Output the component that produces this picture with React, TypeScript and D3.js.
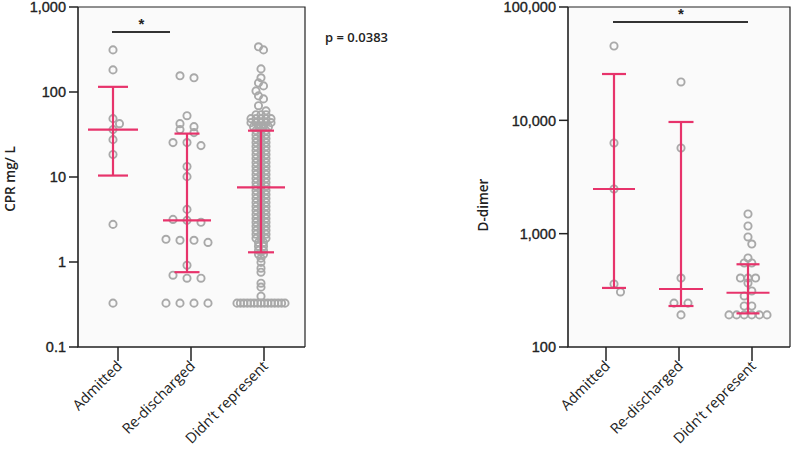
import React from 'react';
import * as d3 from 'd3';

const categories = ['Admitted', 'Re-discharged', 'Didn’t represent'];

// CPR (mg/L) individual values
const crpAdmitted = [313, 182, 48.6, 42.4, 36.1, 27.5, 18.4, 2.77, 0.328];
const crpRedischarged = [155, 147, 52.6, 42.4, 39.1, 36.1, 33.3, 25.4, 23.4, 25.4, 13.3, 10.1, 4.16, 3.17, 3.09, 2.93, 1.85, 1.8, 1.8, 1.7, 0.916, 0.699, 0.645, 0.645, 0.328, 0.328, 0.328, 0.328];
const crpDidntRepresent = [
  340, 313, 187, 147, 128, 118, 103, 90, 83, 69, 60,
  54.1, 54.1, 54.1, 48.6, 48.6, 48.6, 48.6, 48.6, 43.6, 43.6, 43.6, 43.6, 43.6, 39.1, 39.1, 39.1, 39.1, 35.1, 35.1, 35.1,
  31.5, 31.5, 31.5, 28.3, 28.3, 28.3, 25.4, 25.4, 25.4, 22.8, 22.8, 22.8, 20.5, 20.5, 20.5, 18.4, 18.4, 18.4,
  16.5, 16.5, 16.5, 14.8, 14.8, 14.8, 13.3, 13.3, 13.3, 11.9, 11.9, 11.9, 10.7, 10.7, 10.7, 9.6, 9.6, 9.6,
  8.62, 8.62, 8.62, 7.74, 7.74, 7.74, 6.94, 6.94, 6.94, 6.23, 6.23, 6.23, 5.6, 5.6, 5.6, 5.02, 5.02, 5.02,
  4.51, 4.51, 4.51, 4.05, 4.05, 4.05, 3.63, 3.63, 3.63, 3.26, 3.26, 3.26, 2.93, 2.93, 2.93, 2.63, 2.63, 2.63,
  2.36, 2.36, 2.36, 2.12, 2.12, 2.12, 1.9, 1.9, 1.9, 1.7, 1.7, 1.53, 1.53, 1.37, 1.37, 1.23, 1.23,
  1.11, 0.99, 0.845, 0.759, 0.563, 0.506, 0.396,
  0.328, 0.328, 0.328, 0.328, 0.328, 0.328, 0.328, 0.328, 0.328, 0.328, 0.328, 0.328, 0.328, 0.328, 0.328,
];
const crpLower = [10.4, 0.759, 1.3];
const crpMedian = [36.1, 3.09, 7.53];
const crpUpper = [115, 32.4, 35.1];
const crpTicks = [0.1, 1, 10, 100, 1000];

// D-dimer individual values
const ddAdmitted = [45300, 6310, 2478, 360, 306];
const ddRedischarged = [21800, 5700, 406, 244, 244, 192];
const ddDidntRepresent = [1491, 1169, 935, 810, 610, 551, 551, 406, 406, 406, 367, 312, 282, 230, 230, 192, 192, 192, 192, 192, 192];
const ddLower = [332, 230, 198];
const ddMedian = [2478, 325, 301];
const ddUpper = [25630, 9670, 537];
const ddTicks = [100, 1000, 10000, 100000];

const pValueText = 'p = 0.0383';

const PINK = '#e7336b';
const GREY = '#a9a9a9';
const DARK = '#222';
const TICKFONT = '"Liberation Sans", Arial, sans-serif';
const LABELFONT = '"Open Sans", "Noto Sans", sans-serif';

type Pt = { v: number; y: number; dx: number };

function swarm(values: number[], y: (v: number) => number, spacing: number, maxHalf: number): Pt[] {
  const pts: Pt[] = values.map((v) => ({ v, y: y(v), dx: 0 }));
  const sorted = [...pts].sort((a, b) => a.y - b.y);
  const placed: Pt[] = [];
  const D = 8;
  let i = 0;
  while (i < sorted.length) {
    const start = sorted[i].y;
    let j = i;
    while (j < sorted.length && sorted[j].y - start < 3.5) j++;
    const row = sorted.slice(i, j);
    const n = row.length;
    if (n === 1) {
      const p = row[0];
      const cands = [0, spacing / 2, -spacing / 2, spacing, -spacing];
      for (const c of cands) {
        if (placed.every((q) => Math.hypot(q.dx - c, q.y - p.y) >= D)) {
          p.dx = c;
          break;
        }
      }
    } else {
      const sp = Math.min(spacing, (2 * maxHalf) / (n - 1));
      row.forEach((p, k) => (p.dx = (k - (n - 1) / 2) * sp));
    }
    placed.push(...row);
    i = j;
  }
  return sorted;
}

type PanelProps = {
  x0: number; x1: number; y0: number; y1: number;
  domain: [number, number];
  ticks: number[];
  tickRange: [number, number];
  dataRange: [number, number];
  groups: number[][];
  spacing: number[];
  lower: number[]; median: number[]; upper: number[];
  capHalf: number[]; medHalf: number[];
  title: string; titleX: number; titleY: number;
  sig: [number, number]; sigY: number; sigTrim: number;
};

function Panel(p: PanelProps) {
  const y = d3.scaleLog().domain(p.domain).range([p.y1, p.y0]);
  const xt = d3.scalePoint<string>().domain(categories).range(p.tickRange);
  const xd = d3.scalePoint<string>().domain(categories).range(p.dataRange);
  const fmt = d3.format(',');
  const sigX0 = xd(categories[p.sig[0]])!;
  const sigX1 = xd(categories[p.sig[1]])! - p.sigTrim;
  return (
    <g>
      <rect x={p.x0} y={p.y0} width={p.x1 - p.x0} height={p.y1 - p.y0} fill="#fafafa" />
      <path d={`M${p.x0},${p.y0}H${p.x1}V${p.y1}`} fill="none" stroke={DARK} strokeWidth={1.2} />
      <path d={`M${p.x0},${p.y0}V${p.y1}H${p.x1}`} fill="none" stroke={DARK} strokeWidth={1.6} />
      {p.ticks.map((t) => (
        <g key={t}>
          <line x1={p.x0 - 9} x2={p.x0} y1={y(t)} y2={y(t)} stroke={DARK} strokeWidth={1.5} />
          <text
            x={p.x0 - 12}
            y={y(t)}
            dy="0.36em"
            textAnchor="end"
            fontFamily={TICKFONT}
            fontSize={14.5}
            fill={DARK}
            stroke={DARK}
            strokeWidth={0.35}
          >
            {fmt(t)}
          </text>
        </g>
      ))}
      {categories.map((c) => (
        <g key={c}>
          <line x1={xt(c)} x2={xt(c)} y1={p.y1} y2={p.y1 + 14} stroke={DARK} strokeWidth={1.5} />
          <text
            transform={`translate(${xt(c)! + 5},${p.y1 + 20}) rotate(-45)`}
            textAnchor="end"
            fontFamily={LABELFONT}
            fontSize={14.5}
            fill={DARK}
          >
            {c}
          </text>
        </g>
      ))}
      <text
        transform={`translate(${p.titleX},${p.titleY}) rotate(-90)`}
        textAnchor="middle"
        fontFamily={LABELFONT}
        fontWeight={600}
        fontSize={13.5}
        fill={DARK}
      >
        {p.title}
      </text>
      {p.groups.map((vals, gi) => {
        const cx = xd(categories[gi])!;
        const pts = swarm(vals, (v) => y(v), p.spacing[gi], 24);
        return (
          <g key={gi}>
            {pts.map((pt, k) => (
              <circle key={k} cx={cx + pt.dx} cy={pt.y} r={3.6} fill="none" stroke={GREY} strokeWidth={1.9} />
            ))}
          </g>
        );
      })}
      {categories.map((c, gi) => {
        const cx = xd(c)!;
        return (
          <g key={c} stroke={PINK} strokeWidth={2.2}>
            <line x1={cx} x2={cx} y1={y(p.lower[gi])} y2={y(p.upper[gi])} />
            <line x1={cx - p.capHalf[gi]} x2={cx + p.capHalf[gi]} y1={y(p.upper[gi])} y2={y(p.upper[gi])} />
            <line x1={cx - p.capHalf[gi]} x2={cx + p.capHalf[gi]} y1={y(p.lower[gi])} y2={y(p.lower[gi])} />
            <line x1={cx - p.medHalf[gi]} x2={cx + p.medHalf[gi]} y1={y(p.median[gi])} y2={y(p.median[gi])} />
          </g>
        );
      })}
      <line x1={sigX0 - 1} x2={sigX1} y1={p.sigY} y2={p.sigY} stroke="#333" strokeWidth={2} />
      <text x={(sigX0 + sigX1) / 2} y={p.sigY - 3} textAnchor="middle" fontFamily={TICKFONT} fontWeight={700} fontSize={15} fill="#222">
        *
      </text>
    </g>
  );
}

export default function App() {
  return (
    <svg width={796} height={451} style={{ position: 'absolute', left: 0, top: 0, background: '#fff' }}>
      <rect width={796} height={451} fill="#fff" />
      <Panel
        x0={78} x1={305} y0={7} y1={347}
        domain={[0.1, 1000]}
        ticks={crpTicks}
        tickRange={[118, 264]}
        dataRange={[113, 261]}
        groups={[crpAdmitted, crpRedischarged, crpDidntRepresent]}
        spacing={[13, 14, 5]}
        lower={crpLower} median={crpMedian} upper={crpUpper}
        capHalf={[15, 12.5, 13]} medHalf={[25, 24, 24]}
        title="CPR mg/ L" titleX={15} titleY={179}
        sig={[0, 1]} sigY={32} sigTrim={17}
      />
      <Panel
        x0={568} x1={790} y0={7} y1={347}
        domain={[100, 100000]}
        ticks={ddTicks}
        tickRange={[606, 752]}
        dataRange={[614, 748]}
        groups={[ddAdmitted, ddRedischarged, ddDidntRepresent]}
        spacing={[13, 14, 7.6]}
        lower={ddLower} median={ddMedian} upper={ddUpper}
        capHalf={[12, 12.5, 11.5]} medHalf={[21, 22, 21.5]}
        title="D-dimer" titleX={488} titleY={205}
        sig={[0, 2]} sigY={22} sigTrim={0}
      />
      <text x={325} y={42} fontFamily={LABELFONT} fontWeight={600} fontSize={13} fill={DARK}>
        {pValueText}
      </text>
    </svg>
  );
}
